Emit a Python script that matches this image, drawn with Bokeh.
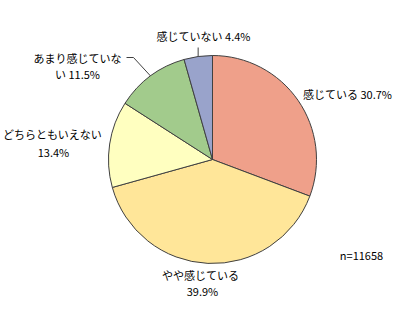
import math
from bokeh.plotting import figure
from bokeh.models import Range1d, ColumnDataSource
from bokeh.core.properties import value
from bokeh.embed import file_html
from bokeh.resources import INLINE

categories = ["感じている", "やや感じている", "どちらともいえない", "あまり感じていない", "感じていない"]
percents = [30.7, 39.9, 13.4, 11.5, 4.4]
colors = ["#EFA08A", "#FFE699", "#FFFFC0", "#A2CB8C", "#99A3CB"]
n_label = "n=11658"

W, H = 408, 314
cx, cy, R = 212, 159, 104

p = figure(width=W, height=H, output_backend="svg", toolbar_location=None,
           x_range=Range1d(0, W), y_range=Range1d(H, 0), min_border=0)
p.axis.visible = False
p.grid.visible = False
p.outline_line_color = None
p.background_fill_color = "white"

total = sum(percents)
starts, ends = [], []
acc = 0.0
for v in percents:
    a0 = math.pi / 2 - 2 * math.pi * acc / total
    acc += v
    a1 = math.pi / 2 - 2 * math.pi * acc / total
    starts.append(a0)
    ends.append(a1)

src = ColumnDataSource(dict(start=starts, end=ends, color=colors))
p.wedge(x=cx, y=cy, radius=R, start_angle="start", end_angle="end",
        direction="clock", fill_color="color", line_color="#404040",
        line_width=1, source=src)

font = value("Noto Sans CJK JP")
fs = "11px"

def txt(x, y, s, align="center"):
    p.text(x=[x], y=[y], text=[s], text_font=font, text_font_size=fs,
           text_align=align, text_baseline="middle", text_color="black")

txt(347, 93, f"{categories[0]} {percents[0]}%")
txt(200, 274, categories[1])
txt(202, 290, f"{percents[1]}%")
txt(52, 133, categories[2])
txt(53, 151, f"{percents[2]}%")
txt(77, 57, categories[3][:-1])
txt(77, 73, f"{categories[3][-1]} {percents[3]}%")
txt(203, 35, f"{categories[4]} {percents[4]}%")
txt(361, 254, n_label)

# leader lines from slice midpoints
def mid_pt(i):
    a = sum(percents[:i]) + percents[i] / 2
    ang = math.pi / 2 - 2 * math.pi * a / total
    return cx + R * math.cos(ang), cy - R * math.sin(ang)

bx, by = mid_pt(4)
p.line([bx, bx], [by, 47], line_color="#404040", line_width=1)
gx, gy = mid_pt(3)
p.line([gx, 133, 126], [gy, 57, 57], line_color="#404040", line_width=1)

open("out.html", "w").write(file_html(p, INLINE))
